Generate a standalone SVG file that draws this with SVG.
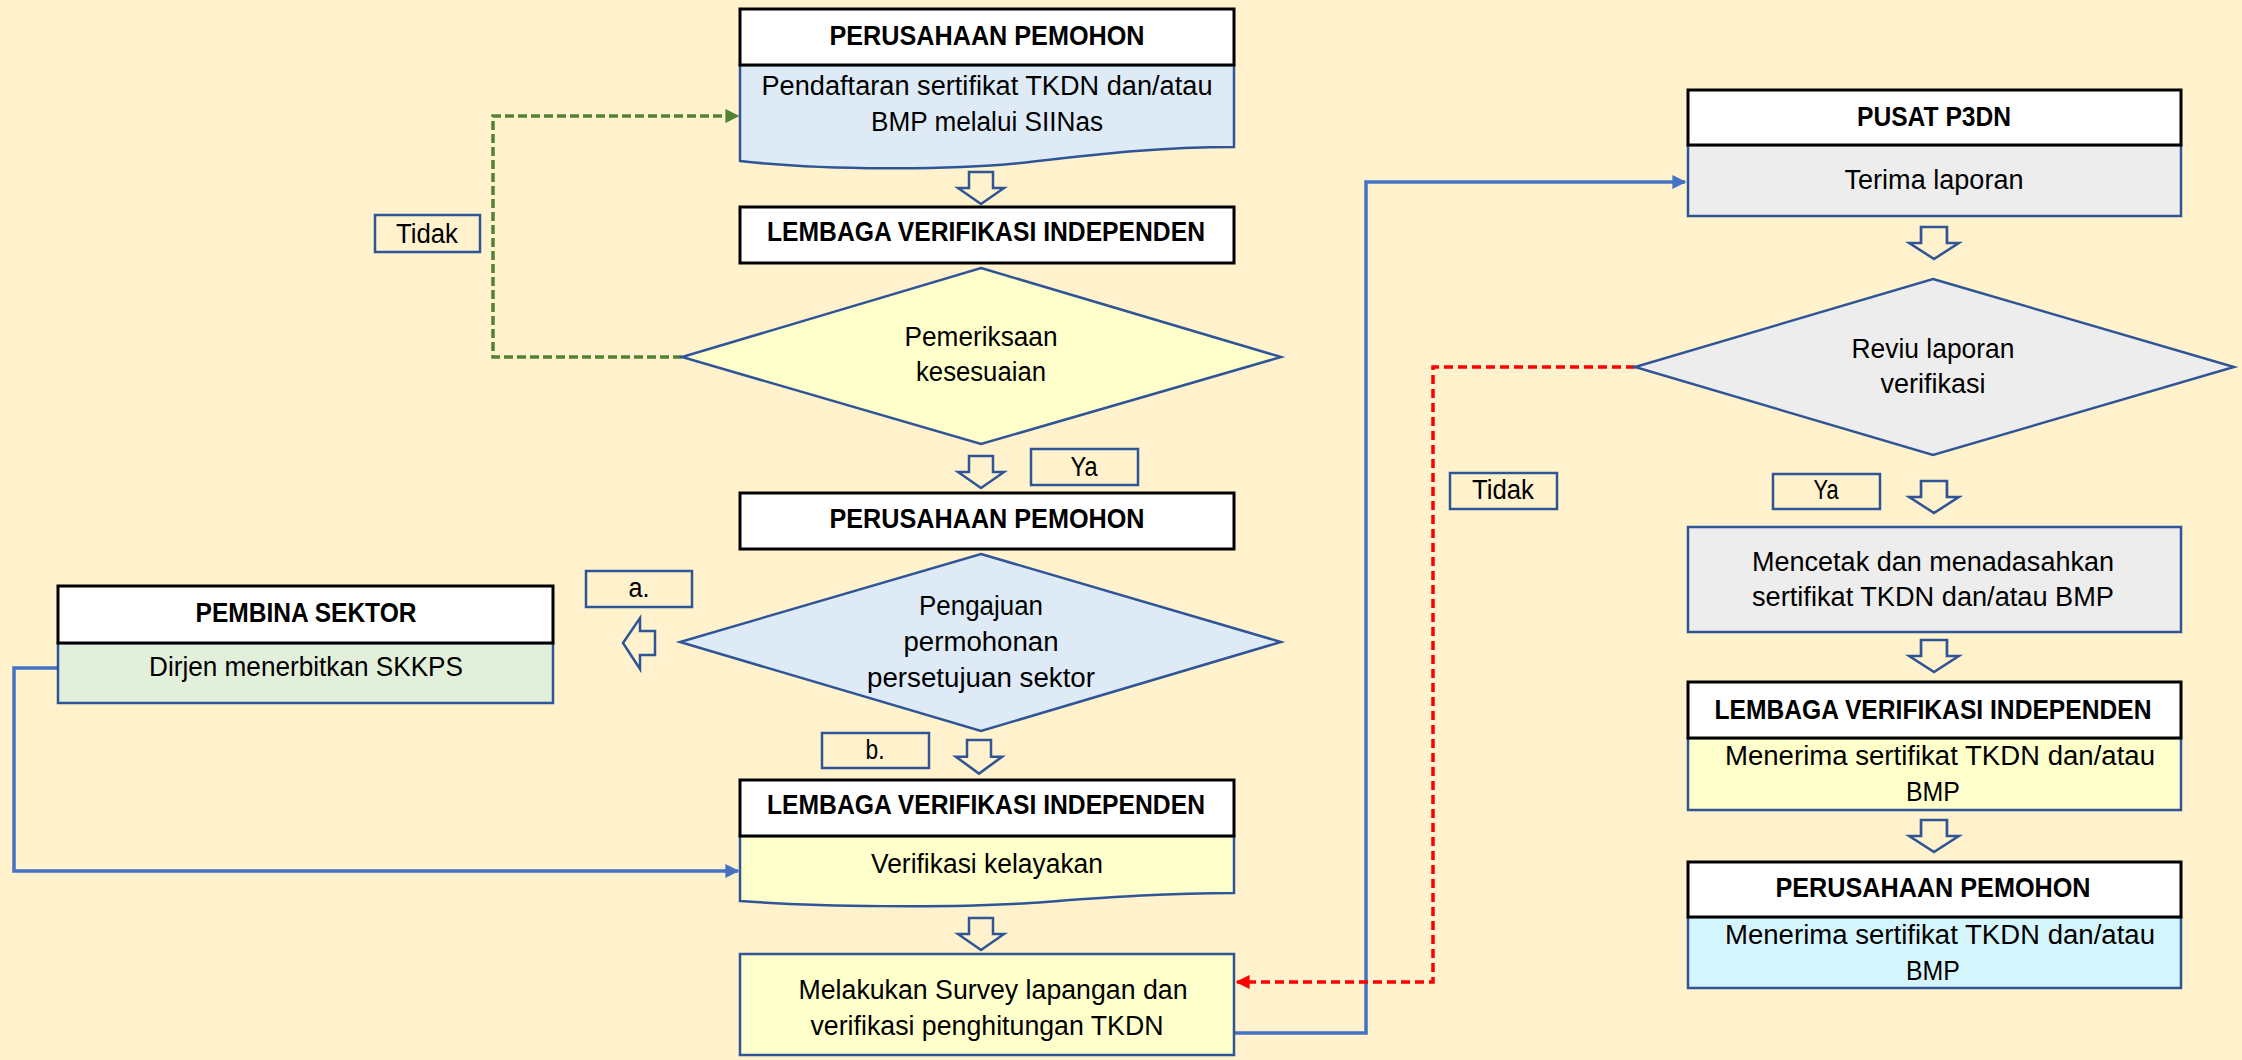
<svg xmlns="http://www.w3.org/2000/svg" width="2242" height="1060" viewBox="0 0 2242 1060">
<style>
text{font-family:"Liberation Sans",Arial,sans-serif;font-size:27px;fill:#000;text-anchor:middle}
.h{font-weight:bold}
.hdr{fill:#fff;stroke:#000;stroke-width:3}
.body{stroke:#2F5597;stroke-width:2.5}
.dia{stroke:#2F5597;stroke-width:2.5}
.lbl{fill:none;stroke:#2F5597;stroke-width:2.5}
.blk{fill:#FFF2CC;stroke:#2F5597;stroke-width:2.5}
.blue{fill:none;stroke:#4472C4;stroke-width:3.5}
.green{fill:none;stroke:#548235;stroke-width:3.5;stroke-dasharray:9 4}
.red{fill:none;stroke:#FF0000;stroke-width:3.5;stroke-dasharray:9 5}
</style>
<defs>
<path id="down" d="M-12,0 H12 V16 H23 L0,32 L-23,16 H-12 Z"/>
<marker id="mb" viewBox="0 0 10 10" refX="9" refY="5" markerWidth="4" markerHeight="4" orient="auto" markerUnits="strokeWidth"><path d="M0,0 L10,5 L0,10 Z" fill="#4472C4"/></marker>
<marker id="mg" viewBox="0 0 10 10" refX="9" refY="5" markerWidth="4" markerHeight="4" orient="auto" markerUnits="strokeWidth"><path d="M0,0 L10,5 L0,10 Z" fill="#548235"/></marker>
<marker id="mr" viewBox="0 0 10 10" refX="9" refY="5" markerWidth="4" markerHeight="4" orient="auto" markerUnits="strokeWidth"><path d="M0,0 L10,5 L0,10 Z" fill="#FF0000"/></marker>
</defs>
<rect width="2242" height="1060" fill="#FFF2CC"/>

<g id="connectors">
<path class="green" d="M682,357 H493 V116 H738" marker-end="url(#mg)"/>
<path class="blue" d="M58,668 H14 V871 H738" marker-end="url(#mb)"/>
<path class="blue" d="M1234,1033 H1366 V182 H1685" marker-end="url(#mb)"/>
<path class="red" d="M1635,367 H1433 V982 H1237" marker-end="url(#mr)"/>
<use href="#down" class="blk" transform="translate(981,172)"/>
<use href="#down" class="blk" transform="translate(981,456)"/>
<use href="#down" class="blk" transform="translate(979,740) scale(1,1.05)"/>
<use href="#down" class="blk" transform="translate(981,918)"/>
<use href="#down" class="blk" transform="translate(1934,227) scale(1.08,1)"/>
<use href="#down" class="blk" transform="translate(1934,481) scale(1.08,1)"/>
<use href="#down" class="blk" transform="translate(1934,640) scale(1.08,1)"/>
<use href="#down" class="blk" transform="translate(1934,820) scale(1.08,1)"/>
<path class="blk" d="M623,643 L640,618 V631 H655 V655 H640 V669 Z"/>
</g>

<g id="n1">
<path class="body" fill="#DEEBF7" d="M740,65 H1234 V147 C1160,147 1100,154 1030,162 C950,171 820,170 740,161 Z"/>
<rect class="hdr" x="740" y="9" width="494" height="56"/>
<text class="h" x="987" y="45" textLength="315" lengthAdjust="spacingAndGlyphs">PERUSAHAAN PEMOHON</text>
<text x="987" y="95" textLength="451" lengthAdjust="spacingAndGlyphs">Pendaftaran sertifikat TKDN dan/atau</text>
<text x="987" y="131" textLength="232" lengthAdjust="spacingAndGlyphs">BMP melalui SIINas</text>
</g>

<g id="n2">
<rect class="hdr" x="740" y="207" width="494" height="56"/>
<text class="h" x="986" y="241" textLength="438" lengthAdjust="spacingAndGlyphs">LEMBAGA VERIFIKASI INDEPENDEN</text>
</g>

<g id="d1">
<path class="dia" fill="#FFFFCC" d="M981,268 L1281,357 L981,444 L682,357 Z"/>
<text x="981" y="346" textLength="153" lengthAdjust="spacingAndGlyphs">Pemeriksaan</text>
<text x="981" y="381" textLength="130" lengthAdjust="spacingAndGlyphs">kesesuaian</text>
</g>

<g id="lbl-tidak1"><rect class="lbl" x="375" y="215" width="105" height="37"/><text x="427" y="243" textLength="62" lengthAdjust="spacingAndGlyphs">Tidak</text></g>
<g id="lbl-ya1"><rect class="lbl" x="1031" y="449" width="107" height="36"/><text x="1084" y="476" textLength="27" lengthAdjust="spacingAndGlyphs">Ya</text></g>

<g id="n3">
<rect class="hdr" x="740" y="493" width="494" height="56"/>
<text class="h" x="987" y="528" textLength="315" lengthAdjust="spacingAndGlyphs">PERUSAHAAN PEMOHON</text>
</g>

<g id="d2">
<path class="dia" fill="#DEEBF7" d="M981,554 L1281,642 L981,731 L680,642 Z"/>
<text x="981" y="615" textLength="124" lengthAdjust="spacingAndGlyphs">Pengajuan</text>
<text x="981" y="651" textLength="155" lengthAdjust="spacingAndGlyphs">permohonan</text>
<text x="981" y="687" textLength="228" lengthAdjust="spacingAndGlyphs">persetujuan sektor</text>
</g>

<g id="lbl-a"><rect class="lbl" x="586" y="571" width="106" height="36"/><text x="639" y="597" textLength="21" lengthAdjust="spacingAndGlyphs">a.</text></g>
<g id="lbl-b"><rect class="lbl" x="822" y="733" width="107" height="35"/><text x="875" y="759" textLength="19" lengthAdjust="spacingAndGlyphs">b.</text></g>

<g id="n4">
<rect class="body" fill="#E2EFDA" x="58" y="643" width="495" height="60"/>
<rect class="hdr" x="58" y="586" width="495" height="57"/>
<text class="h" x="306" y="622" textLength="221" lengthAdjust="spacingAndGlyphs">PEMBINA SEKTOR</text>
<text x="306" y="676" textLength="314" lengthAdjust="spacingAndGlyphs">Dirjen menerbitkan SKKPS</text>
</g>

<g id="n5">
<path class="body" fill="#FFFFCC" d="M740,836 H1234 V893 C1160,893 1100,898 1030,903 C950,908 820,907 740,901 Z"/>
<rect class="hdr" x="740" y="780" width="494" height="56"/>
<text class="h" x="986" y="814" textLength="438" lengthAdjust="spacingAndGlyphs">LEMBAGA VERIFIKASI INDEPENDEN</text>
<text x="987" y="873" textLength="232" lengthAdjust="spacingAndGlyphs">Verifikasi kelayakan</text>
</g>

<g id="n6">
<rect class="body" fill="#FFFFCC" x="740" y="954" width="494" height="101"/>
<text x="993" y="999" textLength="389" lengthAdjust="spacingAndGlyphs">Melakukan Survey lapangan dan</text>
<text x="987" y="1035" textLength="353" lengthAdjust="spacingAndGlyphs">verifikasi penghitungan TKDN</text>
</g>

<g id="n7">
<rect class="body" fill="#EDEDED" x="1688" y="145" width="493" height="71"/>
<rect class="hdr" x="1688" y="90" width="493" height="55"/>
<text class="h" x="1934" y="126" textLength="154" lengthAdjust="spacingAndGlyphs">PUSAT P3DN</text>
<text x="1934" y="189" textLength="179" lengthAdjust="spacingAndGlyphs">Terima laporan</text>
</g>

<g id="d3">
<path class="dia" fill="#EDEDED" d="M1933,279 L2234,367 L1933,455 L1635,367 Z"/>
<text x="1933" y="358" textLength="163" lengthAdjust="spacingAndGlyphs">Reviu laporan</text>
<text x="1933" y="393" textLength="105" lengthAdjust="spacingAndGlyphs">verifikasi</text>
</g>

<g id="lbl-tidak2"><rect class="lbl" x="1450" y="473" width="107" height="36"/><text x="1503" y="499" textLength="62" lengthAdjust="spacingAndGlyphs">Tidak</text></g>
<g id="lbl-ya2"><rect class="lbl" x="1773" y="474" width="107" height="35"/><text x="1826" y="499" textLength="25" lengthAdjust="spacingAndGlyphs">Ya</text></g>

<g id="n8">
<rect class="body" fill="#EDEDED" x="1688" y="527" width="493" height="105"/>
<text x="1933" y="571" textLength="362" lengthAdjust="spacingAndGlyphs">Mencetak dan menadasahkan</text>
<text x="1933" y="606" textLength="362" lengthAdjust="spacingAndGlyphs">sertifikat TKDN dan/atau BMP</text>
</g>

<g id="n9">
<rect class="body" fill="#FFFFCC" x="1688" y="738" width="493" height="72"/>
<rect class="hdr" x="1688" y="682" width="493" height="56"/>
<text class="h" x="1933" y="719" textLength="437" lengthAdjust="spacingAndGlyphs">LEMBAGA VERIFIKASI INDEPENDEN</text>
<text x="1940" y="765" textLength="430" lengthAdjust="spacingAndGlyphs">Menerima sertifikat TKDN dan/atau</text>
<text x="1933" y="801" textLength="54" lengthAdjust="spacingAndGlyphs">BMP</text>
</g>

<g id="n10">
<rect class="body" fill="#D5F5FD" x="1688" y="917" width="493" height="71"/>
<rect class="hdr" x="1688" y="862" width="493" height="55"/>
<text class="h" x="1933" y="897" textLength="315" lengthAdjust="spacingAndGlyphs">PERUSAHAAN PEMOHON</text>
<text x="1940" y="944" textLength="430" lengthAdjust="spacingAndGlyphs">Menerima sertifikat TKDN dan/atau</text>
<text x="1933" y="980" textLength="54" lengthAdjust="spacingAndGlyphs">BMP</text>
</g>
</svg>
